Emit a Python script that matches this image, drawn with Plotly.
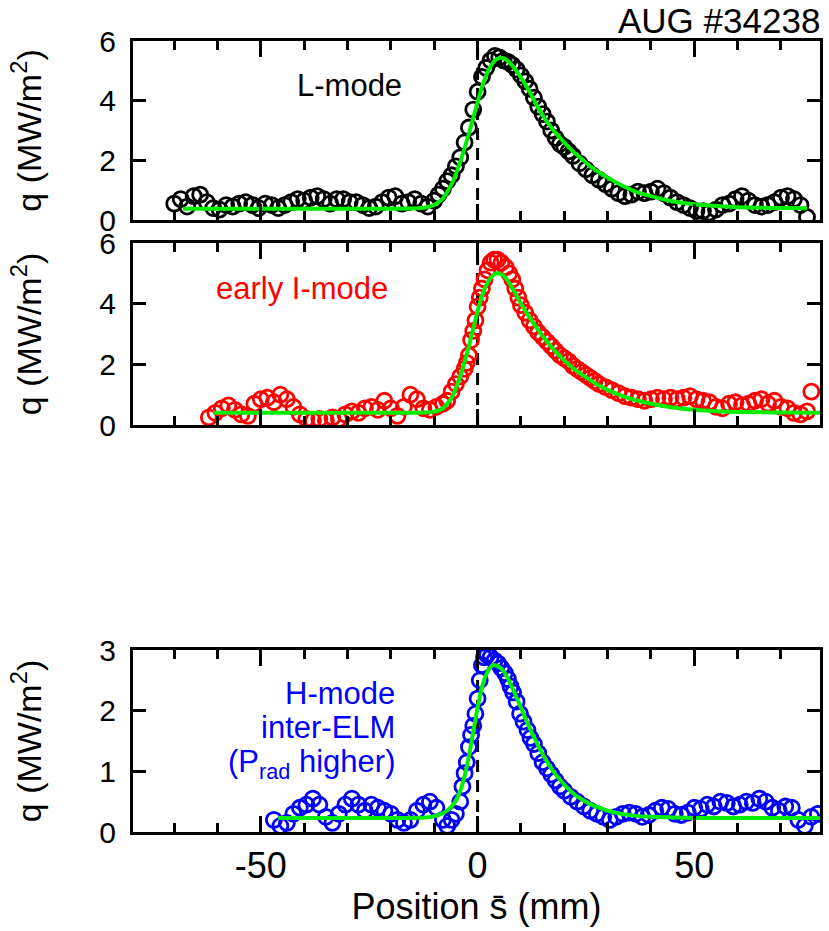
import plotly.graph_objects as go

# ---------------- data ----------------
# L-mode (black circles)
l_x = [-70, -68.5, -67, -65.5, -64, -62.5, -61, -59.5, -58, -56.5, -55, -53.5, -52, -50.5, -49, -47.5,
       -46, -44.5, -43, -41.5, -40, -38.5, -37, -35.5, -34, -32.5, -31, -29.5, -28, -26.5, -25, -23.5,
       -22, -20.5, -19, -17.5, -16, -14.5, -13, -11.5, -10, -9, -8, -7, -6, -5, -4, -3, -2, -1,
       0, 1, 2, 3, 4, 5, 6, 7, 8, 9, 10, 11, 12, 13, 14, 15, 16, 17, 18, 19,
       20, 21, 22, 23.5, 25, 26.5, 28, 29.5, 31, 32.5, 34, 35.5, 37, 38.5, 40, 41.5, 43, 44.5,
       46, 47.5, 49, 50.5, 52, 53.5, 55, 56.5, 58, 59.5, 61, 62.5, 64, 65.5, 67, 68.5, 70, 71.5,
       73, 74.5, 76]
l_q = [0.55, 0.7, 0.45, 0.8, 0.85, 0.6, 0.4, 0.35, 0.5, 0.45, 0.55, 0.6, 0.5, 0.4, 0.55, 0.5,
       0.4, 0.5, 0.6, 0.7, 0.65, 0.75, 0.8, 0.7, 0.55, 0.7, 0.7, 0.6, 0.6, 0.5, 0.4, 0.45,
       0.6, 0.75, 0.8, 0.55, 0.6, 0.7, 0.55, 0.45, 0.65, 0.85, 1.05, 1.3, 1.5, 1.8, 2.1, 2.6, 3.1, 3.7,
       4.3, 4.8, 5.1, 5.35, 5.5, 5.45, 5.35, 5.3, 5.2, 5.05, 4.85, 4.65, 4.4, 4.1, 3.8, 3.55, 3.3, 3.0, 2.75, 2.55,
       2.45, 2.3, 2.15, 1.9, 1.7, 1.5, 1.35, 1.2, 1.05, 0.9, 0.8, 0.85, 0.95, 0.9, 0.95, 1.05, 0.9, 0.75,
       0.6, 0.5, 0.4, 0.3, 0.3, 0.25, 0.35, 0.5, 0.55, 0.7, 0.8, 0.65, 0.5, 0.45, 0.5, 0.6, 0.75, 0.8,
       0.7, 0.5, 0.1]
l_fit_x = [-68, -20, -14, -12, -10, -8, -6, -4, -2, 0, 1, 2, 3, 4, 5, 5.5, 6, 7, 8, 10, 12, 14,
           16, 18, 20, 22, 24, 26, 28, 30, 33, 36, 40, 45, 50, 55, 60, 65, 70, 76]
l_fit_q = [0.38, 0.38, 0.39, 0.42, 0.5, 0.72, 1.2, 1.95, 2.9, 3.95, 4.45, 4.85, 5.15, 5.35, 5.43, 5.44,
           5.42, 5.33, 5.18, 4.78, 4.3, 3.75, 3.3, 2.92, 2.6, 2.3, 2.05, 1.8, 1.6, 1.42, 1.18, 0.98,
           0.8, 0.63, 0.53, 0.47, 0.43, 0.41, 0.4, 0.39]

# early I-mode (red circles)
i_x = [-62, -60.5, -59, -57.5, -56, -54.5, -53, -51.5, -50, -48.5, -47, -45.5, -44, -42.5, -41, -39.5,
       -38, -36.5, -35, -33.5, -32, -30.5, -29, -27.5, -26, -24.5, -23, -21.5, -20, -18.5, -17, -15.5,
       -14, -12.5, -11, -9.5, -8, -7, -6, -5, -4, -3, -2.5, -2, -1.5, -1, -0.5, 0, 0.5, 1, 1.6, 2.3,
       3, 3.8, 4.6, 5.5, 6.5, 7.3, 8, 8.7, 9.4, 10, 11, 12, 13, 14, 15, 16, 17, 18, 19, 20, 21, 22,
       23, 24, 25, 26, 27, 28, 29.5, 31, 32.5, 34, 35.5, 37, 38.5, 40, 41.5, 43, 44.5, 46, 47.5, 49,
       50.5, 52, 53.5, 55, 56.5, 58, 59.5, 61, 62.5, 64, 65.5, 67, 68.5, 70, 71.5, 73, 74.5, 76, 77]
i_q = [0.25, 0.4, 0.55, 0.65, 0.5, 0.35, 0.3, 0.7, 0.85, 0.9, 0.75, 1.0, 0.85, 0.6, 0.35, 0.2,
       0.15, 0.2, 0.15, 0.25, 0.2, 0.35, 0.45, 0.4, 0.55, 0.6, 0.5, 0.8, 0.55, 0.3, 0.6, 1.0,
       0.85, 0.55, 0.5, 0.6, 0.7, 0.8, 1.1, 1.35, 1.6, 1.85, 2.05, 2.3, 2.8, 3.1, 3.45, 3.9, 4.2, 4.5, 4.8, 5.1,
       5.35, 5.45, 5.45, 5.35, 5.2, 5.0, 4.8, 4.5, 4.2, 3.95, 3.7, 3.45, 3.25, 3.05, 2.9, 2.75, 2.6, 2.45, 2.3, 2.2, 2.1, 1.95,
       1.85, 1.75, 1.65, 1.55, 1.45, 1.35, 1.25, 1.15, 1.05, 0.95, 0.9, 0.85, 0.8, 0.85, 0.9, 0.85, 0.9, 0.85, 0.9, 0.95,
       0.85, 0.8, 0.75, 0.6, 0.55, 0.7, 0.75, 0.65, 0.7, 0.8, 0.85, 0.7, 0.8, 0.6, 0.55, 0.4, 0.35, 0.45, 1.1]
i_fit_x = [-61, -20, -12, -10, -8, -6, -4, -2, 0, 1, 2, 3, 4, 4.6, 5.5, 6, 7, 8, 10, 12, 14, 16, 18,
           20, 22, 24, 26, 28, 30, 33, 36, 40, 45, 50, 55, 60, 65, 70, 79]
i_fit_q = [0.4, 0.4, 0.41, 0.44, 0.55, 0.9, 1.6, 2.6, 3.75, 4.25, 4.6, 4.85, 4.98, 5.0, 4.97, 4.92, 4.75,
           4.52, 4.0, 3.55, 3.13, 2.75, 2.42, 2.13, 1.88, 1.67, 1.48, 1.3, 1.16, 0.98, 0.84, 0.7, 0.58,
           0.5, 0.45, 0.43, 0.42, 0.41, 0.4]

# H-mode inter-ELM (blue circles)
h_x = [-47, -45.5, -44, -42.5, -41, -39.5, -38, -36.5, -35, -33.5, -32, -30.5, -29, -27.5, -26, -24.5,
       -23, -21.5, -20, -18.5, -17, -15.5, -14, -12.5, -11, -9.5, -8, -7, -6, -5, -4, -3.5, -3, -2.5,
       -2, -1.5, -1, -0.5, 0, 0.5, 1, 1.5, 2.2, 3, 3.9, 4.7, 5.5, 6.3, 7, 7.6, 8.2, 9, 9.8, 10.6,
       11.5, 12.2, 13, 14, 15, 16, 17, 18, 19, 20, 21.5, 23, 24.5, 26, 27.5, 29, 30.5, 32, 33.5, 35,
       36.5, 38, 39.5, 41, 42.5, 44, 45.5, 47, 48.5, 50, 51.5, 53, 54.5, 56, 57.5, 59, 60.5, 62, 63.5,
       65, 66.5, 68, 69.5, 71, 72.5, 74, 75.5, 77, 78.5]
h_q = [0.2, 0.1, 0.15, 0.3, 0.4, 0.45, 0.55, 0.45, 0.25, 0.15, 0.3, 0.45, 0.55, 0.45, 0.35, 0.45,
       0.4, 0.35, 0.3, 0.2, 0.15, 0.2, 0.35, 0.45, 0.5, 0.4, 0.2, 0.1, 0.2, 0.3, 0.5, 0.75, 0.97, 1.15,
       1.4, 1.6, 1.75, 1.95, 2.2, 2.5, 2.75, 2.88, 2.92, 2.88, 2.83, 2.78, 2.7, 2.62, 2.52, 2.4, 2.3, 2.15, 1.95, 1.82,
       1.68, 1.55, 1.45, 1.3, 1.15, 1.05, 0.95, 0.85, 0.75, 0.68, 0.58, 0.5, 0.42, 0.35, 0.3, 0.25, 0.2, 0.25, 0.3, 0.32,
       0.3, 0.25, 0.28, 0.35, 0.4, 0.38, 0.3, 0.28, 0.32, 0.4, 0.38, 0.45, 0.42, 0.5, 0.48, 0.42, 0.45, 0.5, 0.48,
       0.55, 0.5, 0.4, 0.35, 0.42, 0.4, 0.2, 0.1, 0.25, 0.3]
h_fit_x = [-46, -20, -12, -10, -8, -6, -5, -4, -3, -2, -1, 0, 1, 2, 3, 3.5, 4, 5, 6, 7, 8, 10, 12, 14,
           16, 18, 20, 22, 24, 26, 28, 30, 33, 36, 40, 45, 50, 60, 70, 79]
h_fit_q = [0.23, 0.23, 0.24, 0.26, 0.31, 0.42, 0.52, 0.68, 0.92, 1.25, 1.65, 2.05, 2.38, 2.6, 2.72, 2.75,
           2.75, 2.72, 2.65, 2.53, 2.38, 2.05, 1.72, 1.42, 1.16, 0.95, 0.78, 0.64, 0.54, 0.46, 0.4, 0.35,
           0.3, 0.27, 0.25, 0.24, 0.23, 0.23, 0.23, 0.23]

x_range = [-79.5, 79]
x_tickvals = [-50, 0, 50]
x_ticktext = ["-50", "0", "50"]
y_ranges = [[0, 6], [0, 6], [0, 3]]
y_ticks = [[0, 2, 4, 6], [0, 2, 4, 6], [0, 1, 2, 3]]

FONT = "Liberation Sans, Arial, Helvetica, sans-serif"
GREEN = "#00ee00"

fig = go.Figure()
series = [
    (l_x, l_q, l_fit_x, l_fit_q, "#000000", "x", "y"),
    (i_x, i_q, i_fit_x, i_fit_q, "#ff0000", "x2", "y2"),
    (h_x, h_q, h_fit_x, h_fit_q, "#0000ff", "x3", "y3"),
]
for sx, sq, fx, fq, col, xa, ya in series:
    fig.add_trace(go.Scatter(
        x=sx, y=sq, mode="markers", xaxis=xa, yaxis=ya, showlegend=False, hoverinfo="skip",
        marker=dict(symbol="circle-open", size=15, color=col, line=dict(width=2.8, color=col))))
    fig.add_trace(go.Scatter(
        x=fx, y=fq, mode="lines", xaxis=xa, yaxis=ya, showlegend=False, hoverinfo="skip",
        line=dict(color=GREEN, width=4, shape="spline", smoothing=0.5)))

xcommon = dict(range=x_range, showline=True, linewidth=3, linecolor="black", mirror="allticks",
               ticks="inside", ticklen=16, tickwidth=3, tickcolor="black",
               tickmode="array", tickvals=x_tickvals, ticktext=x_ticktext,
               minor=dict(ticks="inside", tick0=0, dtick=10, ticklen=9, tickwidth=3, tickcolor="black"),
               showgrid=False, zeroline=False, tickfont=dict(family=FONT, size=36, color="black"))
ycommon = dict(showline=True, linewidth=3, linecolor="black", mirror="allticks",
               ticks="inside", ticklen=13, tickwidth=3, tickcolor="black",
               showgrid=False, zeroline=False, tickfont=dict(family=FONT, size=30, color="black"),
               ticklabelstandoff=8,
               title=dict(text="q (MW/m<sup>2</sup>)", font=dict(family=FONT, size=34, color="black"),
                          standoff=48))

domains = [[612 / 791, 1.0], [407 / 791, 589 / 791], [0.0, 182 / 791]]
fig.update_layout(
    xaxis=dict(xcommon, anchor="y", showticklabels=False),
    xaxis2=dict(xcommon, anchor="y2", showticklabels=False),
    xaxis3=dict(xcommon, anchor="y3", showticklabels=True,
                title=dict(text="Position s\u0304 (mm)", font=dict(family=FONT, size=36, color="black"),
                           standoff=8)),
    yaxis=dict(ycommon, domain=domains[0], range=y_ranges[0], tickvals=y_ticks[0], anchor="x"),
    yaxis2=dict(ycommon, domain=domains[1], range=y_ranges[1], tickvals=y_ticks[1], anchor="x2"),
    yaxis3=dict(ycommon, domain=domains[2], range=y_ranges[2], tickvals=y_ticks[2], anchor="x3"),
)

# dashed separatrix line at s = 0
for xr, yr in [("x", "y domain"), ("x2", "y2 domain"), ("x3", "y3 domain")]:
    fig.add_shape(type="line", xref=xr, yref=yr, x0=0, x1=0, y0=0, y1=1, layer="below",
                  line=dict(color="black", width=3, dash="12px,8px"))

ann = [
    dict(text="AUG #34238", xref="paper", yref="paper", x=1.003, y=1.0265, xanchor="right",
         yanchor="middle", font=dict(family=FONT, size=35, color="black")),
    dict(text="L-mode", xref="x", yref="y", x=-29.6, y=4.5, xanchor="center", yanchor="middle",
         font=dict(family=FONT, size=31, color="black")),
    dict(text="early I-mode", xref="x2", yref="y2", x=-40.5, y=4.5, xanchor="center", yanchor="middle",
         font=dict(family=FONT, size=31, color="#ff0000")),
    dict(text="H-mode", xref="x3", yref="y3", x=-18.6, y=2.29, xanchor="right", yanchor="middle",
         font=dict(family=FONT, size=31, color="#0000ff")),
    dict(text="inter-ELM", xref="x3", yref="y3", x=-18.6, y=1.73, xanchor="right", yanchor="middle",
         font=dict(family=FONT, size=31, color="#0000ff")),
    dict(text="(P<sub>rad</sub> higher)", xref="x3", yref="y3", x=-18.6, y=1.12, xanchor="right",
         yanchor="middle", font=dict(family=FONT, size=31, color="#0000ff")),
]
for a in ann:
    fig.add_annotation(showarrow=False, **a)

fig.update_layout(
    width=829, height=931, margin=dict(l=133, r=6, t=41, b=99),
    paper_bgcolor="white", plot_bgcolor="white", font=dict(family=FONT, color="black"),
    showlegend=False,
)

fig.write_html("out.html")
